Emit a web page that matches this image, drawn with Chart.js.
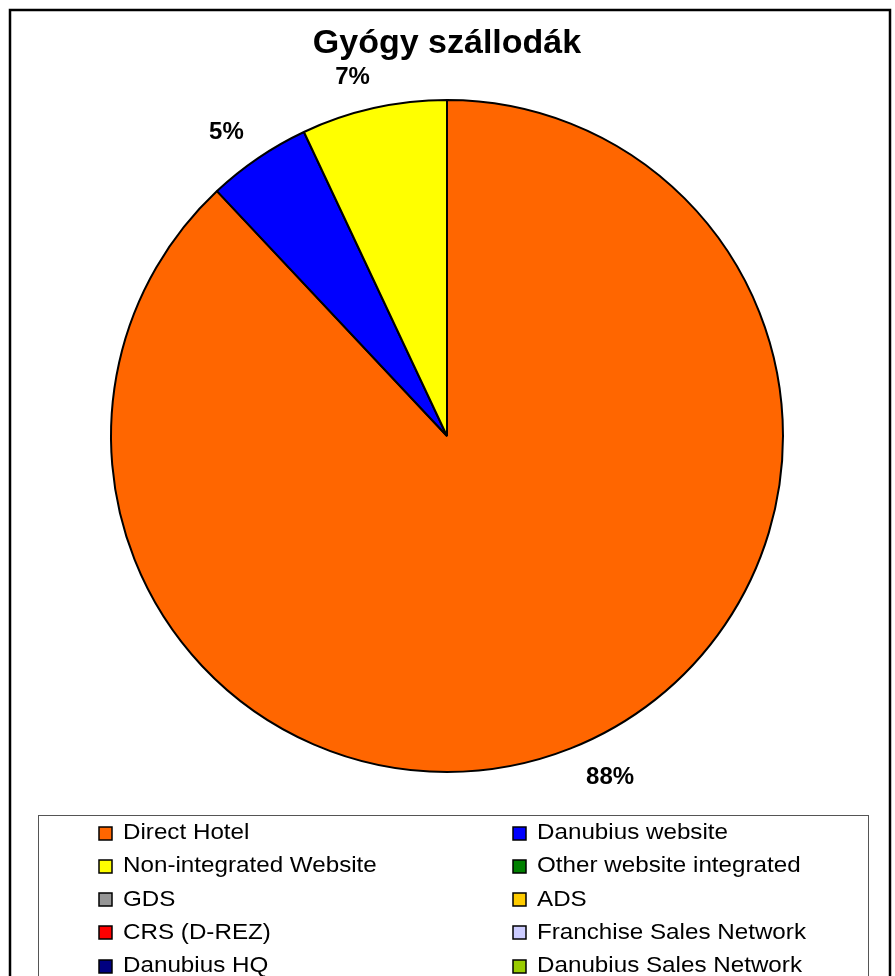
<!DOCTYPE html>
<html>
<head>
<meta charset="utf-8">
<title>Gyógy szállodák</title>
<script src="https://cdn.jsdelivr.net/npm/chart.js@4"></script>
<style>
    html, body { margin: 0; padding: 0; background: #fff; }
    #wrap { width: 895px; height: 976px; }
</style>
</head>
<body>
<div id="wrap"><canvas id="channelChart" width="895" height="976"></canvas></div>
<script>
const chartTitle = 'Gyógy szállodák';

// every booking channel, in legend order (two columns, row by row)
const channels = [
    'Direct Hotel', 'Danubius website',
    'Non-integrated Website', 'Other website integrated',
    'GDS', 'ADS',
    'CRS (D-REZ)', 'Franchise Sales Network',
    'Danubius HQ', 'Danubius Sales Network'
];
const channelColors = [
    '#FF6600', '#0000FF',
    '#FFFF00', '#008000',
    '#969696', '#FFCC00',
    '#FF0000', '#CCCCFF',
    '#000080', '#99CC00'
];

// slices as they go round clockwise from the top, share in percent
const sliceLabels = ['Direct Hotel', 'Danubius website', 'Non-integrated Website'];
const sliceValues = [88, 5, 7];

const FONT = '"Liberation Sans", Arial, sans-serif';

// percent labels just outside each slice
const outsideLabels = {
    id: 'outsideLabels',
    afterDatasetsDraw(chart) {
        const ctx = chart.ctx;
        const meta = chart.getDatasetMeta(0);
        const data = chart.data.datasets[0].data;
        const total = data.reduce((a, b) => a + b, 0);
        ctx.save();
        ctx.font = 'bold 24px ' + FONT;
        ctx.fillStyle = '#000';
        ctx.textBaseline = 'middle';
        meta.data.forEach((arc, i) => {
            if (!data[i]) return;
            const p = arc.getProps(['x', 'y', 'startAngle', 'endAngle', 'outerRadius'], true);
            const mid = (p.startAngle + p.endAngle) / 2;
            const r = p.outerRadius + 31;
            const x = p.x + Math.cos(mid) * r;
            const y = p.y + Math.sin(mid) * r;
            ctx.textAlign = x >= p.x ? 'left' : 'right';
            ctx.fillText(Math.round(data[i] / total * 100) + '%', x + (x >= p.x ? 4 : 3), y);
        });
        ctx.restore();
    }
};

// outer frame and the two-column legend box
const frameAndLegend = {
    id: 'frameAndLegend',
    afterDraw(chart) {
        const ctx = chart.ctx;
        ctx.save();
        ctx.strokeStyle = '#000';
        ctx.lineWidth = 2.5;
        ctx.strokeRect(10, 10, 880, 1000);

        ctx.strokeStyle = '#555';
        ctx.lineWidth = 1;
        ctx.strokeRect(38.5, 815.5, 830, 200);

        ctx.font = '22px ' + FONT;
        ctx.textBaseline = 'middle';
        ctx.textAlign = 'left';
        channels.forEach((name, i) => {
            const col = i % 2;
            const row = Math.floor(i / 2);
            const sx = col === 0 ? 99 : 513;
            const cy = 833 + row * 33.3;
            const sy = Math.round(cy - 6.5);
            ctx.fillStyle = channelColors[i];
            ctx.fillRect(sx, sy, 13, 13);
            ctx.strokeStyle = '#000';
            ctx.lineWidth = 1.5;
            ctx.strokeRect(sx, sy, 13, 13);
            ctx.save();
            ctx.translate(sx + 24, cy);
            ctx.scale(1.1, 1);
            ctx.fillStyle = '#000';
            ctx.fillText(name, 0, 0);
            ctx.restore();
        });
        ctx.restore();
    }
};

const ctx = document.getElementById('channelChart').getContext('2d');
const pieChart = new Chart(ctx, {
    type: 'pie',
    data: {
        labels: sliceLabels,
        datasets: [{
            data: sliceValues,
            backgroundColor: sliceLabels.map(l => channelColors[channels.indexOf(l)]),
            borderColor: '#000',
            borderWidth: 2
        }]
    },
    options: {
        responsive: false,
        animation: false,
        layout: {
            padding: { top: 0, left: 110, right: 111, bottom: 203 }
        },
        plugins: {
            legend: { display: false },
            tooltip: { enabled: false },
            title: {
                display: true,
                text: chartTitle,
                color: '#000',
                font: { family: FONT, size: 34, weight: 'bold' },
                padding: { top: 23.6, bottom: 34.6 }
            }
        }
    },
    plugins: [outsideLabels, frameAndLegend]
});
</script>
</body>
</html>
